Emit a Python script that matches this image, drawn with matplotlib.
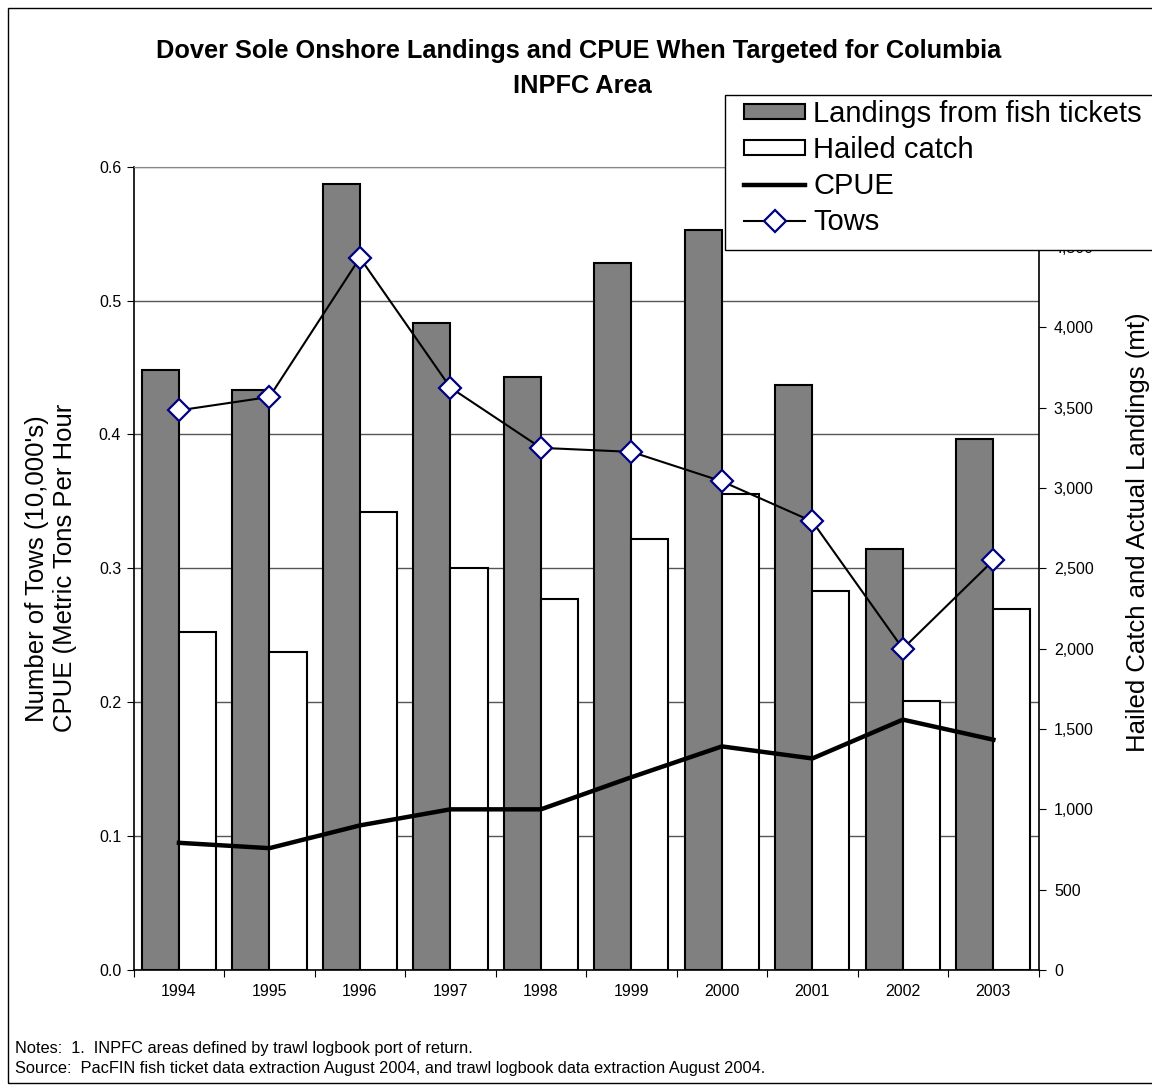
import numpy as np
import matplotlib
matplotlib.use("Agg")
import matplotlib.pyplot as plt
from matplotlib.patches import Rectangle, Patch
from matplotlib.lines import Line2D
from matplotlib.ticker import FuncFormatter, FixedLocator

plt.rcParams['font.family'] = ['Liberation Sans', 'DejaVu Sans']

years = ['1994', '1995', '1996', '1997', '1998', '1999', '2000', '2001', '2002', '2003']
# metric tons, right axis
landings = [3733, 3613, 4892, 4028, 3693, 4400, 4608, 3639, 2623, 3305]
hailed = [2105, 1981, 2850, 2504, 2307, 2683, 2960, 2358, 1675, 2250]
# left axis
cpue = [0.095, 0.091, 0.108, 0.120, 0.120, 0.144, 0.167, 0.158, 0.187, 0.172]
tows = [0.418, 0.428, 0.532, 0.435, 0.390, 0.387, 0.365, 0.335, 0.240, 0.306]

W, H = 1152, 1091
fig = plt.figure(figsize=(W / 100, H / 100), dpi=100)
rect = [133.7 / W, 1 - 970 / H, (1038.6 - 133.7) / W, (970 - 166.7) / H]

# base axes: left scale + grid
ax = fig.add_axes(rect)
ax.set_ylim(0, 0.6)
ax.set_xlim(-0.5, len(years) - 0.5)
ax.set_yticks(np.arange(0, 0.61, 0.1))
ax.yaxis.set_major_formatter(FuncFormatter(lambda v, p: f"{v:.1f}"))
ax.grid(axis='y', color='#555555', lw=1)
ax.set_axisbelow(True)
ax.tick_params(axis='y', direction='out', length=5, labelsize=11.5, pad=4)
ax.spines['top'].set_color('#888888')
ax.spines['right'].set_visible(False)
for s in ['left', 'bottom']:
    ax.spines[s].set_linewidth(1.2)

x = np.arange(len(years))
ax.xaxis.set_major_locator(FixedLocator(np.arange(-0.5, len(years), 1.0)))
ax.xaxis.set_major_formatter(FuncFormatter(lambda v, p: ''))
ax.xaxis.set_minor_locator(FixedLocator(x))
ax.set_xticklabels(years, minor=True)
ax.tick_params(axis='x', which='major', direction='out', length=5)
ax.tick_params(axis='x', which='minor', length=0, labelsize=11.5, pad=10)

ax.set_ylabel("Number of Tows (10,000's)\nCPUE (Metric Tons Per Hour",
              fontsize=18.5, linespacing=1.25, va='center')
ax.yaxis.set_label_coords((51 - 133.7) / 904.9, 0.5)

# bars on the right scale
ax2 = ax.twinx()
w = 0.41
ax2.bar(x - w / 2, landings, width=w, color='#808080', edgecolor='black', lw=1.5)
ax2.bar(x + w / 2, hailed, width=w, color='white', edgecolor='black', lw=1.5)
ax2.set_ylim(0, 5000)
ax2.set_yticks(np.arange(0, 5001, 500))
ax2.yaxis.set_major_formatter(FuncFormatter(lambda v, p: f"{v:,.0f}"))
ax2.tick_params(axis='y', direction='out', length=5, labelsize=11.5, pad=6)
for s in ['top', 'left', 'bottom']:
    ax2.spines[s].set_visible(False)
ax2.spines['right'].set_linewidth(1.2)
ax2.set_ylabel("Hailed Catch and Actual Landings (mt)", fontsize=18.5, va='center')
ax2.yaxis.set_label_coords((1138 - 133.7) / 904.9, 0.545)

# lines on the left scale
ax3 = ax.twinx()
ax3.set_ylim(0, 0.6)
ax3.set_yticks([])
for s in ax3.spines.values():
    s.set_visible(False)
ax3.plot(x, cpue, color='black', lw=3.2)
ax3.plot(x, tows, color='black', lw=1.5, marker='D', markersize=11.5,
         markerfacecolor='white', markeredgecolor='#000080', markeredgewidth=1.6)

fig.text(579 / W, 1 - 51 / H, "Dover Sole Onshore Landings and CPUE When Targeted for Columbia",
         ha='center', va='center', fontsize=18.3, fontweight='bold')
fig.text(582 / W, 1 - 86 / H, "INPFC Area", ha='center', va='center',
         fontsize=18.3, fontweight='bold')

# legend box, runs off the right edge like the original
fig.patches.append(Rectangle((725 / W, 1 - 250 / H), 1, 155 / H,
                             transform=fig.transFigure, facecolor='white',
                             edgecolor='black', lw=1, zorder=4))
handles = [
    Patch(facecolor='#808080', edgecolor='black', lw=1.5),
    Patch(facecolor='white', edgecolor='black', lw=1.5),
    Line2D([], [], color='black', lw=3.2),
    Line2D([], [], color='black', lw=1.5, marker='D', markersize=11.5,
           markerfacecolor='white', markeredgecolor='#000080', markeredgewidth=1.6),
]
labels = ['Landings from fish tickets', 'Hailed catch', 'CPUE', 'Tows']
fig.legend(handles, labels, loc='upper left', bbox_to_anchor=(744 / W, 1 - 100 / H),
           fontsize=21, frameon=False, handlelength=2.1, handleheight=0.45,
           handletextpad=0.27, labelspacing=0.27, borderpad=0, borderaxespad=0)

fig.text(15 / W, 1 - 1048 / H, "Notes:  1.  INPFC areas defined by trawl logbook port of return.",
         ha='left', va='center', fontsize=11.8)
fig.text(15 / W, 1 - 1068 / H,
         "Source:  PacFIN fish ticket data extraction August 2004, and trawl logbook data extraction August 2004.",
         ha='left', va='center', fontsize=11.8)

fig.patches.append(Rectangle((8 / W, 1 - 1083 / H), 1.2, (1083 - 8) / H,
                             transform=fig.transFigure, fill=False,
                             edgecolor='black', lw=1))

fig.savefig("out.png", dpi=100)
